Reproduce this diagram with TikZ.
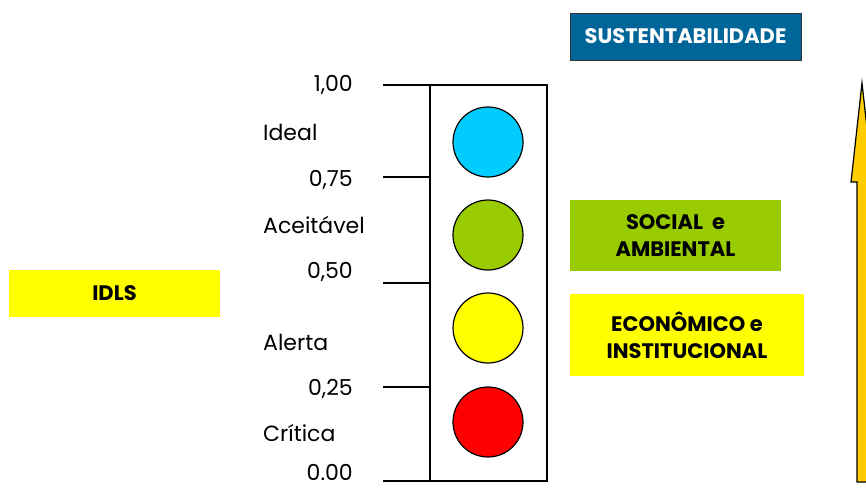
\documentclass[tikz,border=0pt]{standalone}
\usepackage{fontspec}
\setmainfont{Poppins}
\usepackage{tikz}
\usetikzlibrary{positioning, calc}
\definecolor{susblue}{HTML}{006699}
\definecolor{lightgreen}{HTML}{99CC00}
\definecolor{signyellow}{HTML}{FFFF00}
\definecolor{signblue}{HTML}{00CCFF}
\definecolor{signred}{HTML}{FF0000}
\definecolor{arrowgold}{HTML}{FFCC00}

\begin{document}
\begin{tikzpicture}[
  x=1pt, y=-1pt,
  tag/.style={inner sep=0pt, font=\fontsize{22}{26}\selectfont},
  value/.style={tag, anchor=east},
  level/.style={tag, anchor=west},
  band/.style={rectangle, inner sep=0pt, align=center,
               font=\fontsize{21}{27}\selectfont\bfseries},
  lamp/.style={circle, draw=black, line width=1.2pt, minimum size=70pt, inner sep=0pt},
  tick/.style={line width=1.2pt}
]
  \useasboundingbox (0,0) rectangle (866,490);

  % left label
  \node[band, fill=signyellow, minimum width=211pt, minimum height=47pt] (idls) at (114.5,293.5) {IDLS};

  % scale with values
  \draw[tick] (430,85) rectangle (547,481);
  \foreach \y in {85, 177, 283, 387, 481} {
    \draw[tick] (383,\y) -- (430,\y);
  }
  \node[value] (v100) at (353,85) {1,00};
  \node[value] (v75) at (353,180) {0,75};
  \node[value] (v50) at (353,272) {0,50};
  \node[value] (v25) at (353,389) {0,25};
  \node[value] (v0) at (353,472) {0.00};

  \node[level] (ideal) at (263,132) {Ideal};
  \node[level] (aceit) at (263,225) {Aceitável};
  \node[level] (alerta) at (263,342) {Alerta};
  \node[level] (critica) at (263,433) {Crítica};

  % lamps
  \node[lamp, fill=signblue] (lblue) at (488,142) {};
  \node[lamp, fill=lightgreen] (lgreen) at (488,235) {};
  \node[lamp, fill=signyellow] (lyellow) at (488,328) {};
  \node[lamp, fill=signred] (lred) at (488,422) {};

  % right boxes
  \node[band, fill=susblue, draw=black!80, line width=1pt, text=white,
        minimum width=231pt, minimum height=47pt] (sust) at (685.5,36.5) {SUSTENTABILIDADE};
  \node[band, fill=lightgreen, minimum width=211pt, minimum height=71pt] (social) at (675.5,235.5) {SOCIAL\ \ e\\AMBIENTAL};
  \node[band, fill=signyellow, minimum width=234pt, minimum height=82pt] (econ) at (687,335) {ECONÔMICO e\\INSTITUCIONAL};

  % rising arrow
  \draw[fill=arrowgold, line width=1.2pt] (862,83) -- (873,182) -- (867,182) -- (867,482)
    -- (857,482) -- (857,182) -- (851,182) -- cycle;
\end{tikzpicture}
\end{document}
